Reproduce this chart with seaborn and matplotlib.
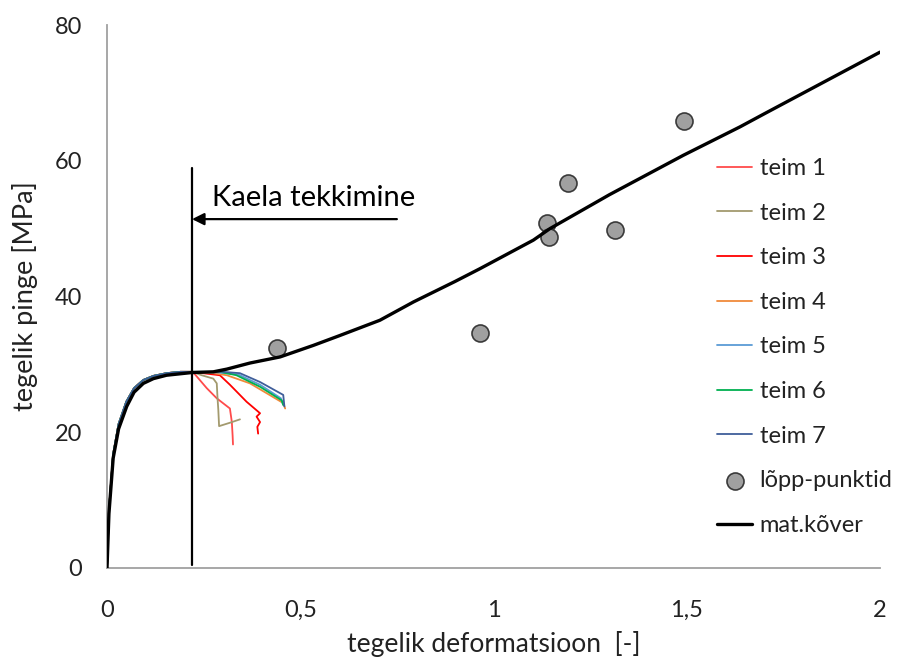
import numpy as np
import pandas as pd
import matplotlib
matplotlib.use("Agg")
import matplotlib.pyplot as plt
import seaborn as sns

# --- material curve (true strain vs true stress) ---
mat_x = [0, 0.005, 0.016, 0.03, 0.051, 0.07, 0.094, 0.12, 0.154, 0.22, 0.275, 0.31,
         0.37, 0.448, 0.534, 0.6, 0.706, 0.793, 0.9, 0.965, 1.103, 1.146, 1.3,
         1.491, 1.638, 1.7, 2.0]
mat_y = [0, 8.0, 16.2, 20.5, 23.8, 25.9, 27.2, 27.9, 28.4, 28.8, 28.9, 29.3,
         30.2, 31.1, 32.8, 34.2, 36.5, 39.2, 42.2, 44.1, 48.3, 50.0, 55.0,
         60.8, 65.0, 66.9, 76.0]

# --- common elastic/yield part of all test curves ---
rise_x = [0, 0.005, 0.016, 0.03, 0.05, 0.07, 0.094, 0.12, 0.154, 0.19, 0.22]
rise_y = [0, 8.5, 16.8, 21.2, 24.5, 26.5, 27.7, 28.3, 28.7, 28.9, 28.9]

# --- post-necking part of each test ---
teim1_x = [0.228, 0.258, 0.284, 0.318, 0.323, 0.325, 0.326]
teim1_y = [28.5, 26.5, 25.0, 23.5, 21.5, 19.5, 18.2]
teim2_x = [0.245, 0.275, 0.284, 0.286, 0.288, 0.29, 0.318, 0.344]
teim2_y = [28.4, 27.9, 27.2, 25.0, 23.3, 20.9, 21.4, 21.9]
teim3_x = [0.292, 0.318, 0.361, 0.396, 0.387, 0.396, 0.389, 0.391]
teim3_y = [28.4, 27.0, 24.5, 22.8, 22.3, 21.5, 20.8, 19.8]
teim4_x = [0.275, 0.31, 0.37, 0.456, 0.461]
teim4_y = [28.7, 28.4, 27.2, 24.3, 23.5]
teim5_x = [0.29, 0.34, 0.396, 0.45, 0.455]
teim5_y = [28.8, 28.5, 27.0, 25.0, 24.2]
teim6_x = [0.292, 0.335, 0.396, 0.452, 0.456]
teim6_y = [28.9, 28.4, 26.7, 24.7, 24.0]
teim7_x = [0.30, 0.344, 0.396, 0.456, 0.459]
teim7_y = [28.9, 28.7, 27.4, 25.5, 23.8]

# --- fracture points ---
end_x = [0.44, 0.965, 1.138, 1.143, 1.193, 1.314, 1.493]
end_y = [32.4, 34.6, 50.8, 48.7, 56.7, 49.8, 65.8]

teim_names = ["teim 1", "teim 2", "teim 3", "teim 4", "teim 5", "teim 6", "teim 7"]
teim_colors = ["#FF4B4B", "#A39A6E", "#FF0000", "#F08A3A", "#5B9BD5", "#00B050", "#3F5E9A"]
teim_tails = [(teim1_x, teim1_y), (teim2_x, teim2_y), (teim3_x, teim3_y),
              (teim4_x, teim4_y), (teim5_x, teim5_y), (teim6_x, teim6_y),
              (teim7_x, teim7_y)]

x_ticks = [0, 0.5, 1, 1.5, 2]
x_tick_labels = ["0", "0,5", "1", "1,5", "2"]
y_ticks = [0, 20, 40, 60, 80]

neck_x = 0.22

sns.set_theme(style="white")
plt.rcParams["font.family"] = ["Lato", "DejaVu Sans"]

fig = plt.figure(figsize=(9.01, 6.58), dpi=100)
ax = fig.add_axes([107 / 901, 90 / 658, (880 - 107) / 901, (568 - 25) / 658])

for name, color, (tx, ty) in zip(teim_names, teim_colors, teim_tails):
    df = pd.DataFrame({"x": rise_x + tx, "y": rise_y + ty})
    sns.lineplot(data=df, x="x", y="y", ax=ax, color=color, linewidth=1.3,
                 sort=False, estimator=None, label=name)

sns.scatterplot(x=end_x, y=end_y, ax=ax, s=150, color="#A0A0A0",
                edgecolor="#3A3A3A", linewidth=1.2, label="lõpp-punktid", zorder=5)

mat_df = pd.DataFrame({"x": mat_x, "y": mat_y})
sns.lineplot(data=mat_df, x="x", y="y", ax=ax, color="black", linewidth=2.4,
             sort=False, estimator=None, label="mat.kõver", zorder=6)

# necking marker and arrow
ax.plot([neck_x, neck_x], [0.4, 59], color="black", linewidth=1.6, zorder=7)
ax.annotate("", xy=(neck_x, 51.4), xytext=(0.75, 51.4),
            arrowprops=dict(arrowstyle="-|>", color="black", lw=1.6,
                            mutation_scale=18, shrinkA=0, shrinkB=0))
ax.text(0.272, 52.6, "Kaela tekkimine", fontsize=21, color="black",
        ha="left", va="bottom")

ax.set_xlim(0, 2)
ax.set_ylim(0, 80)
ax.set_xticks(x_ticks)
ax.set_xticklabels(x_tick_labels)
ax.set_yticks(y_ticks)
ax.tick_params(axis="both", labelsize=17, colors="#222222", length=7,
               width=1.2, direction="out")
ax.tick_params(axis="x", pad=16, color="#A0A0A0")
ax.tick_params(axis="y", pad=12, color="#A0A0A0", length=6)

for side in ["top", "right"]:
    ax.spines[side].set_visible(False)
for side in ["left", "bottom"]:
    ax.spines[side].set_color("#A0A0A0")
    ax.spines[side].set_linewidth(1.3)

ax.set_xlabel("tegelik deformatsioon  [-]", fontsize=19, color="#222222", labelpad=7)
ax.set_ylabel("tegelik pinge [MPa]", fontsize=19.5, color="#222222", labelpad=12)

leg = ax.legend(loc="upper left", bbox_to_anchor=(717 / 901, 1 - 158 / 658),
                bbox_transform=fig.transFigure, frameon=False,
                fontsize=17, handlelength=1.5, handletextpad=0.3,
                labelspacing=1.0, borderpad=0, borderaxespad=0)
for txt in leg.get_texts():
    txt.set_color("#222222")

fig.savefig("out.png", dpi=100)
